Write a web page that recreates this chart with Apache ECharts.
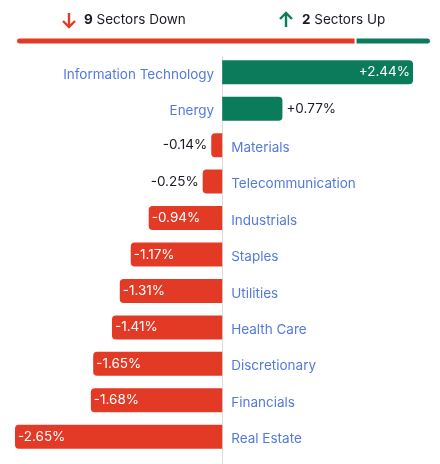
<!DOCTYPE html>
<html>
<head>
<meta charset="utf-8">
<script src="https://cdn.jsdelivr.net/npm/echarts@6/dist/echarts.min.js"></script>
<style>
  html, body { margin: 0; padding: 0; background: #fff; }
  #chart { width: 440px; height: 464px; }
</style>
</head>
<body>
<div id="chart"></div>
<script>
const sectors = ['Information Technology', 'Energy', 'Materials', 'Telecommunication', 'Industrials',
  'Staples', 'Utilities', 'Health Care', 'Discretionary', 'Financials', 'Real Estate'];
const changes = [2.44, 0.77, -0.14, -0.25, -0.94, -1.17, -1.31, -1.41, -1.65, -1.68, -2.65];

const RED = '#e33a26';
const GREEN = '#0b7c5b';
const BLUE = '#2858d4';
const DARK = '#1a1a24';
const FONT = 'Inter';
const FS = 13.5;

const downCount = changes.filter(v => v < 0).length;
const upCount = changes.filter(v => v > 0).length;

const fmt = v => (v > 0 ? '+' : '') + v.toFixed(2) + '%';

const barData = changes.map(v => {
  const up = v > 0;
  const inside = Math.abs(v) > 0.85;
  return {
    value: v,
    itemStyle: {
      color: up ? GREEN : RED,
      borderRadius: up ? [0, 4, 4, 0] : [4, 0, 0, 4]
    },
    label: {
      show: true,
      position: inside ? (up ? 'insideRight' : 'insideLeft') : (up ? 'right' : 'left'),
      distance: inside ? 3 : 4,
      color: inside ? '#fff' : DARK,
      formatter: fmt(v)
    }
  };
});

const nameData = changes.map((v, i) => ({
  value: [0, sectors[i]],
  label: {
    show: true,
    position: v > 0 ? 'left' : 'right',
    distance: v > 0 ? 8 : 9,
    offset: [0, 2.5],
    formatter: sectors[i]
  }
}));

// header arrows (chevron style)
function arrow(cx, down, color) {
  const t = 13, b = 27, w = 6;
  return {
    type: 'group',
    children: [
      { type: 'line', shape: { x1: cx, y1: t, x2: cx, y2: b }, style: { stroke: color, lineWidth: 2.4 } },
      {
        type: 'polyline',
        shape: { points: down ? [[cx - w, b - w], [cx, b], [cx + w, b - w]] : [[cx - w, t + w], [cx, t], [cx + w, t + w]] },
        style: { stroke: color, lineWidth: 2.4, fill: null, lineJoin: 'miter' }
      }
    ]
  };
}

const headerStyle = {
  fontFamily: FONT, fontSize: 13.5, fontWeight: 'normal', color: DARK,
  rich: { b: { fontWeight: 'bold', fontSize: 13.5, color: DARK, fontFamily: FONT } }
};

const chart = echarts.init(document.getElementById('chart'));
chart.setOption({
  animation: false,
  textStyle: { fontFamily: FONT },
  title: [
    { left: 79, top: 8, text: '{b|' + downCount + '} Sectors Down', textStyle: headerStyle },
    { left: 297, top: 8, text: '{b|' + upCount + '} Sectors Up', textStyle: headerStyle }
  ],
  grid: [
    { left: 15, right: 27, top: 54, height: 401 },
    { left: 16, right: 9, top: 37, height: 8 }
  ],
  xAxis: [
    { type: 'value', min: -2.65, max: 2.44, show: false, gridIndex: 0 },
    { type: 'value', min: 0, max: downCount + upCount, show: false, gridIndex: 1 }
  ],
  yAxis: [
    {
      type: 'category', data: sectors, inverse: true, gridIndex: 0,
      axisLine: { show: false }, axisTick: { show: false }, axisLabel: { show: false }
    },
    { type: 'category', data: ['count'], show: false, gridIndex: 1 }
  ],
  graphic: [
    { type: 'line', shape: { x1: 222.5, y1: 56, x2: 222.5, y2: 464 }, style: { stroke: '#dcdcdc', lineWidth: 1 }, z: 0 },
    arrow(69, true, RED),
    arrow(286, false, GREEN)
  ],
  series: [
    {
      type: 'bar', data: barData, barWidth: 24, xAxisIndex: 0, yAxisIndex: 0,
      label: { fontSize: FS, fontFamily: FONT }, z: 2
    },
    {
      type: 'scatter', data: nameData, symbolSize: 0, xAxisIndex: 0, yAxisIndex: 0,
      label: { color: BLUE, fontSize: FS, fontFamily: FONT }, z: 3
    },
    {
      type: 'bar', stack: 'count', data: [downCount], barWidth: 7, xAxisIndex: 1, yAxisIndex: 1,
      itemStyle: { color: RED, borderRadius: [4, 0, 0, 4], borderColor: '#fff', borderWidth: 1 }
    },
    {
      type: 'bar', stack: 'count', data: [upCount], barWidth: 7, xAxisIndex: 1, yAxisIndex: 1,
      itemStyle: { color: GREEN, borderRadius: [0, 4, 4, 0], borderColor: '#fff', borderWidth: 1 }
    }
  ]
});
</script>
</body>
</html>
